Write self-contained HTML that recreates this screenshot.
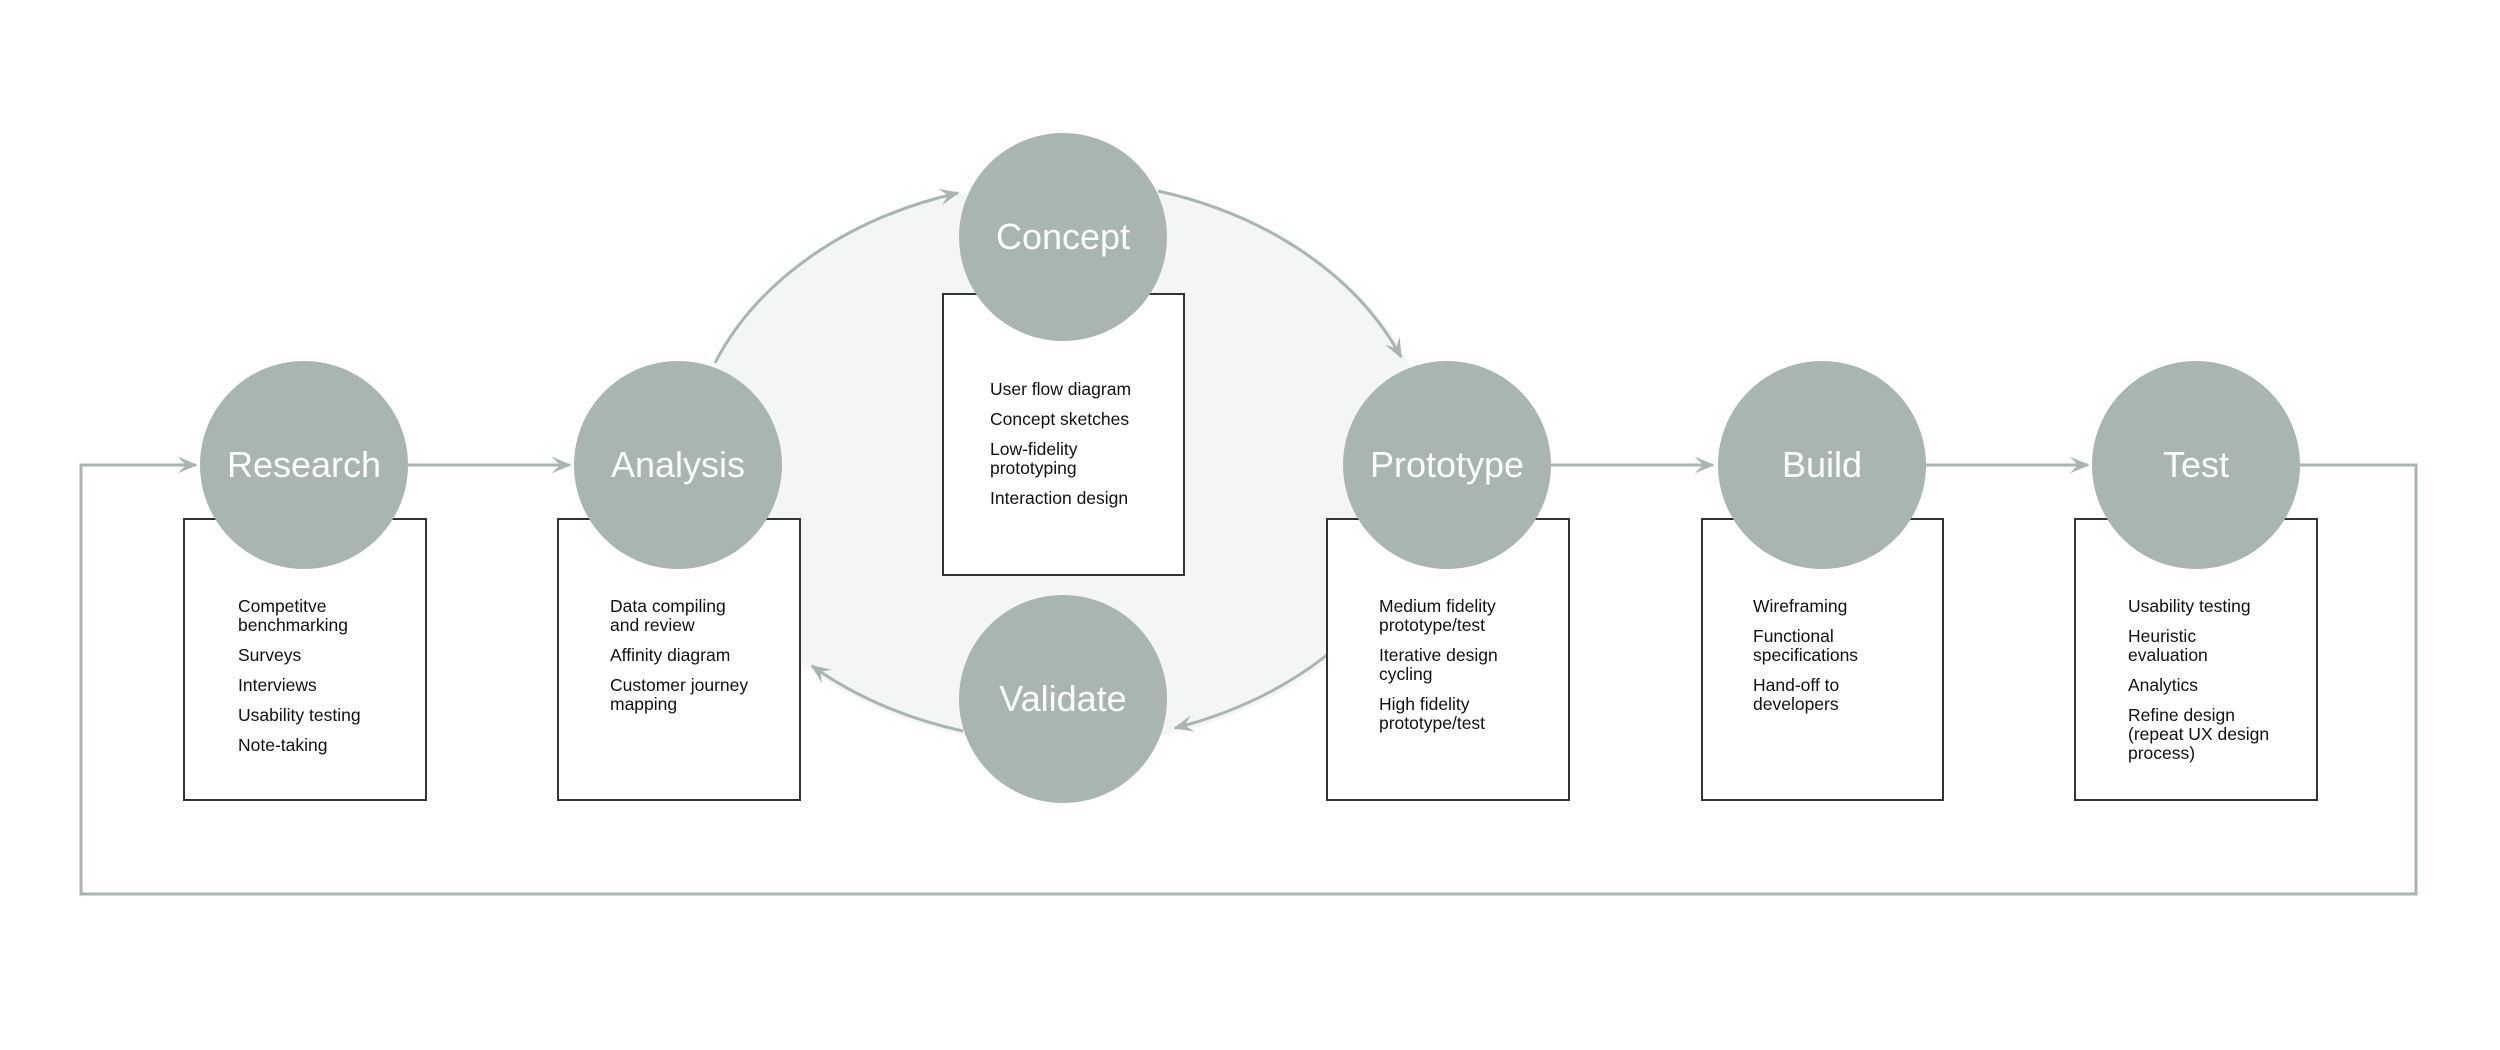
<!DOCTYPE html>
<html><head><meta charset="utf-8"><style>
html,body{margin:0;padding:0;background:#fff;}
body{width:2500px;height:1050px;position:relative;overflow:hidden;font-family:"Liberation Sans",sans-serif;}
svg{position:absolute;left:0;top:0;}
.box{position:absolute;border:2px solid #333;background:#fff;box-sizing:border-box;}
.c{position:absolute;width:208px;height:208px;border-radius:50%;background:#a9b5b1;color:#fff;font-size:36px;display:flex;align-items:center;justify-content:center;}
.t{position:absolute;font-size:17.5px;line-height:19px;color:#111;}
.t div{margin-bottom:11px;}
</style></head><body>
<svg width="2500" height="1050">
<defs>
<marker id="a" viewBox="0 0 12 12" refX="11" refY="6" markerWidth="20" markerHeight="20" markerUnits="userSpaceOnUse" orient="auto">
<path d="M0,1 L12,6 L0,11 L5,6 z" fill="#a8b5b1"/>
</marker>
</defs>
<ellipse cx="1063" cy="464" rx="370" ry="282" fill="#f4f6f5"/>
<g fill="none" stroke="#a8b5b1" stroke-width="3">
<path d="M715,363 A375,287 0 0 1 958,193" marker-end="url(#a)"/>
<path d="M1158,191 A375,287 0 0 1 1401,357" marker-end="url(#a)"/>
<path d="M1327,655 A375,287 0 0 1 1175,728" marker-end="url(#a)"/>
<path d="M963,731 A375,287 0 0 1 812,666" marker-end="url(#a)"/>
<path d="M408,465 L570,465" marker-end="url(#a)"/>
<path d="M1551,465 L1713,465" marker-end="url(#a)"/>
<path d="M1926,465 L2088,465" marker-end="url(#a)"/>
<path d="M2300,465 L2416,465 L2416,894 L81,894 L81,465 L196,465" marker-end="url(#a)"/>
</g>
</svg>

<div class="box" style="left:183px;top:518px;width:244px;height:283px"></div>
<div class="box" style="left:557px;top:518px;width:244px;height:283px"></div>
<div class="box" style="left:942px;top:293px;width:243px;height:283px"></div>
<div class="box" style="left:1326px;top:518px;width:244px;height:283px"></div>
<div class="box" style="left:1701px;top:518px;width:243px;height:283px"></div>
<div class="box" style="left:2074px;top:518px;width:244px;height:283px"></div>

<div class="c" style="left:200px;top:361px">Research</div>
<div class="c" style="left:574px;top:361px">Analysis</div>
<div class="c" style="left:959px;top:133px">Concept</div>
<div class="c" style="left:959px;top:595px">Validate</div>
<div class="c" style="left:1343px;top:361px">Prototype</div>
<div class="c" style="left:1718px;top:361px">Build</div>
<div class="c" style="left:2092px;top:361px">Test</div>

<div class="t" style="left:238px;top:597px"><div>Competitve<br>benchmarking</div><div>Surveys</div><div>Interviews</div><div>Usability testing</div><div>Note-taking</div></div>
<div class="t" style="left:610px;top:597px"><div>Data compiling<br>and review</div><div>Affinity diagram</div><div>Customer journey<br>mapping</div></div>
<div class="t" style="left:990px;top:380px"><div>User flow diagram</div><div>Concept sketches</div><div>Low-fidelity<br>prototyping</div><div>Interaction design</div></div>
<div class="t" style="left:1379px;top:597px"><div>Medium fidelity<br>prototype/test</div><div>Iterative design<br>cycling</div><div>High fidelity<br>prototype/test</div></div>
<div class="t" style="left:1753px;top:597px"><div>Wireframing</div><div>Functional<br>specifications</div><div>Hand-off to<br>developers</div></div>
<div class="t" style="left:2128px;top:597px"><div>Usability testing</div><div>Heuristic<br>evaluation</div><div>Analytics</div><div>Refine design<br>(repeat UX design<br>process)</div></div>
</body></html>
